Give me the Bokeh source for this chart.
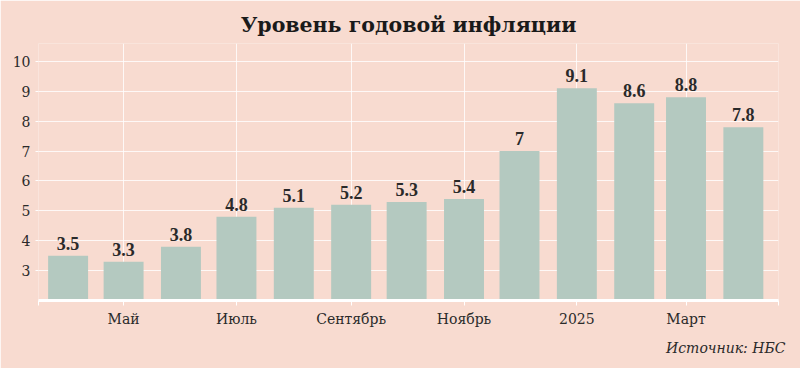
from datetime import datetime
from bokeh.plotting import figure
from bokeh.models import Range1d, FixedTicker, ColumnDataSource, LabelSet, Title
from bokeh.embed import file_html
from bokeh.resources import INLINE

# ---- data ----
months = [datetime(2024, m, 1) for m in range(4, 13)] + [datetime(2025, m, 1) for m in range(1, 5)]
values = [3.5, 3.3, 3.8, 4.8, 5.1, 5.2, 5.3, 5.4, 7.0, 9.1, 8.6, 8.8, 7.8]
tick_dates = [datetime(2024, 5, 1), datetime(2024, 7, 1), datetime(2024, 9, 1),
              datetime(2024, 11, 1), datetime(2025, 1, 1), datetime(2025, 3, 1)]
tick_labels = ["Май", "Июль", "Сентябрь", "Ноябрь", "2025", "Март"]
y_ticks = [3, 4, 5, 6, 7, 8, 9, 10]
title_text = "Уровень годовой инфляции"
source_text = "Источник: НБС"

BG = "#F8DBD0"
BAR = "#B4C9C0"
TXT = "#2a2a2a"
SERIF = "DejaVu Serif"

def ms(d):
    return (d - datetime(1970, 1, 1)).total_seconds() * 1000

x_start = datetime(2024, 3, 16)
x_end = datetime(2025, 4, 20)

p = figure(width=800, height=368, x_axis_type="datetime", output_backend="svg",
           toolbar_location=None, x_range=Range1d(x_start, x_end), y_range=Range1d(2, 10.6),
           background_fill_color=BG, border_fill_color=BG, outline_line_color=None,
           min_border_left=38, min_border_right=22, min_border_bottom=68, min_border_top=43,
           title=title_text)
p.title.align = "center"
p.title.text_font = SERIF
p.title.text_font_size = "20.5px"
p.title.text_font_style = "bold"
p.title.text_color = "#1a1a1a"
p.title.standoff = 13

p.add_layout(Title(text=source_text, align="right", text_font=SERIF, text_font_size="14px",
                   text_font_style="italic", text_color=TXT, offset=-7, standoff=16), "below")

src = ColumnDataSource(dict(x=months, top=values,
                            lab=[("%g" % v) for v in values]))
p.vbar(x="x", top="top", bottom=2, width=21.6 * 86400000, source=src,
       fill_color=BAR, line_color=None)

p.add_layout(LabelSet(x="x", y="top", text="lab", source=src, text_align="center",
                      text_baseline="bottom", y_offset=6, text_font=SERIF,
                      text_font_size="18px", text_font_style="bold", text_color=TXT))

edge_ticks = [ms(x_start), ms(x_end)]
xt = [ms(d) for d in tick_dates]
p.xaxis.ticker = FixedTicker(ticks=edge_ticks + xt)
overrides = {int(t): lab for t, lab in zip(xt, tick_labels)}
for t in edge_ticks:
    overrides[int(t)] = ""
p.xaxis.major_label_overrides = overrides
p.xaxis.axis_line_color = "white"
p.xaxis.axis_line_width = 3
p.xaxis.major_tick_line_color = "white"
p.xaxis.major_tick_out = 5
p.xaxis.major_tick_in = 0
p.xaxis.minor_tick_line_color = None
p.xaxis.major_label_text_font = SERIF
p.xaxis.major_label_text_font_size = "14px"
p.xaxis.major_label_text_color = TXT
p.xaxis.major_label_standoff = 5

p.yaxis.ticker = FixedTicker(ticks=y_ticks)
p.yaxis.axis_line_color = None
p.yaxis.major_tick_line_color = "white"
p.yaxis.major_tick_out = 3
p.yaxis.major_tick_in = 0
p.yaxis.minor_tick_line_color = None
p.yaxis.major_label_text_font = SERIF
p.yaxis.major_label_text_font_size = "14px"
p.yaxis.major_label_text_color = TXT
p.yaxis.major_label_standoff = 5

p.xgrid.ticker = FixedTicker(ticks=edge_ticks + xt)
p.xgrid.grid_line_color = "white"
p.xgrid.grid_line_alpha = 0.8
p.ygrid.grid_line_color = "white"
p.ygrid.grid_line_alpha = 0.8

open("out.html", "w").write(file_html(p, INLINE))
